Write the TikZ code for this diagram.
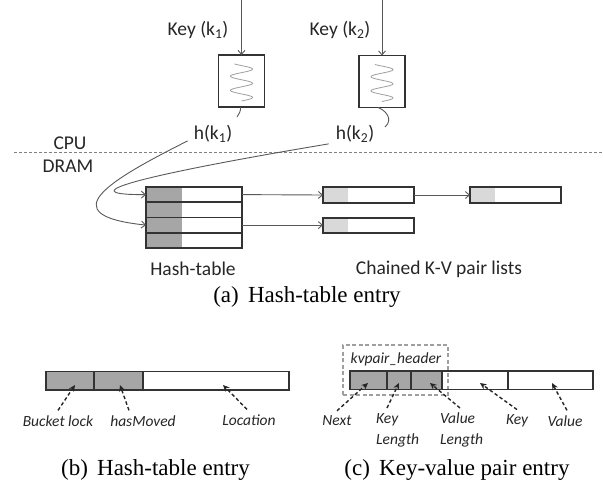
\documentclass[tikz,border=0pt]{standalone}
\usepackage{fontspec}
\setmainfont{Carlito}
\newfontfamily\capfont{Liberation Serif}
\usetikzlibrary{arrows.meta}
\definecolor{txt}{HTML}{262626}
\definecolor{edge}{HTML}{333333}
\definecolor{darkfill}{HTML}{A6A6A6}
\definecolor{lightfill}{HTML}{D9D9D9}
\definecolor{conncol}{HTML}{595959}
\begin{document}
\begin{tikzpicture}[x=1pt,y=-1pt,
  lbl/.style={font=\fontsize{19.5}{22}\selectfont, text=txt, inner sep=0pt},
  ilbl/.style={font=\fontsize{15.5}{21}\selectfont\itshape, text=txt, inner sep=0pt},
  captxt/.style={font=\capfont\fontsize{23}{26}\selectfont, text=black, inner sep=0pt},
  hashbox/.style={draw=edge, line width=1.6pt, minimum width=46pt, minimum height=52pt, inner sep=0pt, outer sep=0pt},
  htrow/.style={draw=edge, line width=1.5pt, minimum width=96pt, minimum height=15.25pt, inner sep=0pt, outer sep=0pt,
    path picture={\fill[darkfill] (path picture bounding box.north west) rectangle ([xshift=36pt]path picture bounding box.south west);}},
  kvbox/.style={draw=edge, line width=1.5pt, minimum width=91pt, minimum height=16pt, inner sep=0pt, outer sep=0pt,
    path picture={\fill[lightfill] (path picture bounding box.north west) rectangle ([xshift=25pt]path picture bounding box.south west);}},
  cell/.style={draw=edge, line width=1.5pt, minimum height=18.5pt, inner sep=0pt, outer sep=0pt},
  conn/.style={draw=conncol, line width=0.9pt, -{Straight Barb[length=4pt,width=7pt]}},
  plain/.style={draw=conncol, line width=0.9pt},
  darr/.style={draw=black!85, line width=1.4pt, dash pattern=on 3.5pt off 2.5pt, -{Stealth[length=6.5pt,width=6pt]}},
]
\useasboundingbox (0,0) rectangle (603,488);

% CPU / DRAM divider
\coordinate (dl) at (14,152);
\coordinate (dr) at (603,152);
\draw[gray, line width=0.8pt, dash pattern=on 3pt off 2pt] (dl) -- (dr);
\node[lbl] (cpu) at (70,143) {CPU};
\node[lbl] (dram) at (68,166) {DRAM};

% hash functions
\node[lbl] (key1) at (198,30) {Key (k\textsubscript{1})};
\node[lbl] (key2) at (340,30) {Key (k\textsubscript{2})};
\node[hashbox] (hash1) at (241.5,81) {};
\node[hashbox] (hash2) at (382,81.5) {};
\coordinate (in1) at (241.5,0);
\coordinate (in2) at (382,0);
\draw[conn] (in1) -- (hash1.north);
\draw[conn] (in2) -- (hash2.north);
\draw[gray!75, line width=0.8pt] plot[domain=-40:900, samples=90, smooth] ({241.5+11*sin(\x)}, {64+(\x+40)/940*37});
\draw[gray!75, line width=0.8pt] plot[domain=-40:900, samples=90, smooth] ({382+11*sin(\x)}, {64.5+(\x+40)/940*37});
\coordinate (t1) at (237,117);
\coordinate (t2) at (385,127);
\draw[plain] ([xshift=-1pt]hash1.south) .. controls (241,111) and (239,114) .. (t1);
\draw[plain] ([xshift=-4pt]hash2.south) .. controls (385,110) and (394,119) .. (t2);
\node[lbl] (hk1) at (213,134) {h(k\textsubscript{1})};
\node[lbl] (hk2) at (355,134) {h(k\textsubscript{2})};

% hash table
\node[htrow] (ht1) at (194,194.6) {};
\node[htrow] (ht2) at (194,209.9) {};
\node[htrow] (ht3) at (194,225.1) {};
\node[htrow] (ht4) at (194,240.4) {};
\node[lbl] (htlab) at (193,269) {Hash-table};

% chained lists
\node[kvbox] (kv1) at (368.5,195) {};
\node[kvbox] (kv2) at (515.5,195) {};
\node[kvbox, minimum height=15pt] (kv3) at (368.5,225.3) {};
\node[lbl] (kvlab) at (439,269) {Chained K-V pair lists};
\draw[conn] (ht1.east) -- (kv1.west);
\draw[conn] (ht3.east) -- (kv3.west |- ht3.east);
\draw[conn] (kv1.east) -- (kv2.west);

% hash pointers
\draw[conn] ([xshift=-6pt,yshift=2pt]hk1.south west) .. controls (110,180) and (50,215) .. (ht3.west);
\draw[conn] ([xshift=-7pt,yshift=-1pt]hk2.south west) .. controls (160,172) and (60,195) .. (ht1.west);

\node[captxt] (capa) at (307,297) {(a)\hspace{0.4em}Hash-table entry};

% (b) hash-table entry
\node[cell, fill=darkfill, minimum width=48pt] (bl) at (70,380.5) {};
\node[cell, fill=darkfill, minimum width=49pt] (hm) at (118.5,380.5) {};
\node[cell, minimum width=146pt] (loc) at (216,380.5) {};
\node[ilbl] (bllab) at (58,421) {Bucket lock};
\node[ilbl] (hmlab) at (143,421) {hasMoved};
\node[ilbl] (loclab) at (249,420) {Location};
\coordinate (blp) at (75,385);
\coordinate (hmp) at (120,385);
\coordinate (locp) at (223,385);
\draw[darr] ([yshift=5pt]bllab.north) -- (blp);
\draw[darr] ([xshift=-14pt,yshift=5pt]hmlab.north) -- (hmp);
\draw[darr] ([xshift=-2pt,yshift=5pt]loclab.north) -- (locp);
\node[captxt] (capb) at (155.5,470) {(b)\hspace{0.4em}Hash-table entry};

% (c) key-value pair entry
\node[draw=gray!75, line width=1.2pt, dash pattern=on 4pt off 2.5pt, minimum width=105pt, minimum height=50pt, inner sep=0pt] (hdr) at (395.5,370) {};
\node[ilbl] (hdrlab) at (396,359) {kvpair\_header};
\node[cell, fill=darkfill, minimum width=37pt] (nx) at (368.5,380) {};
\node[cell, fill=darkfill, minimum width=24pt] (kl) at (399,380) {};
\node[cell, fill=darkfill, minimum width=31pt] (vl) at (426.5,380) {};
\node[cell, minimum width=66pt] (ky) at (475,380) {};
\node[cell, minimum width=85pt] (vv) at (550.5,380) {};
\node[ilbl] (nxlab) at (337,421) {Next};
\node[ilbl, align=left, anchor=north west] (kllab) at (376,413) {Key\\Length};
\node[ilbl, align=left, anchor=north west] (vllab) at (440,413) {Value\\Length};
\node[ilbl] (kylab) at (517,421) {Key};
\node[ilbl] (vvlab) at (565,421) {Value};
\coordinate (nxp) at (368,383);
\coordinate (klp) at (399,383);
\coordinate (vlp) at (430,383);
\coordinate (kyp) at (480,383);
\coordinate (vvp) at (552,383);
\draw[darr] ([yshift=5pt]nxlab.north) -- (nxp);
\draw[darr] ([xshift=11pt,yshift=5pt]kllab.north west) -- (klp);
\draw[darr] ([xshift=20pt,yshift=5pt]vllab.north west) -- (vlp);
\draw[darr] ([yshift=5pt]kylab.north) -- (kyp);
\draw[darr] ([xshift=2pt,yshift=5pt]vvlab.north) -- (vvp);
\node[captxt] (capc) at (457,470) {(c)\hspace{0.4em}Key-value pair entry};
\end{tikzpicture}
\end{document}
